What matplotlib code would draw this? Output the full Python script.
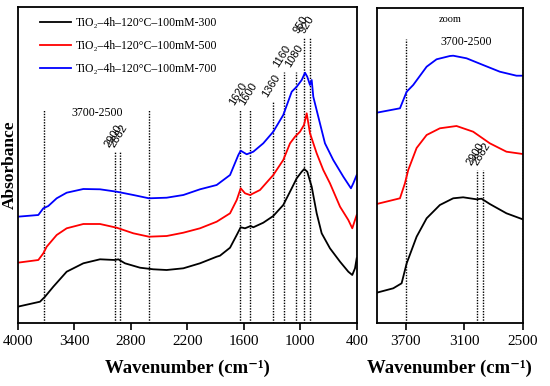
import matplotlib
matplotlib.use("Agg")
import matplotlib.pyplot as plt

SERIF = ['Liberation Serif', 'DejaVu Serif']
SANS = ['Liberation Sans', 'DejaVu Sans']
plt.rcParams['font.family'] = SERIF

# ---------------- data ----------------
labels = ['TiO\u2082\u20134h\u2013120\u00b0C\u2013100mM-300',
          'TiO\u2082\u20134h\u2013120\u00b0C\u2013100mM-500',
          'TiO\u2082\u20134h\u2013120\u00b0C\u2013100mM-700']
colors = ['black', '#ff0000', '#0000ff']

# main panel spectra (wavenumber, absorbance a.u.)
wn_300 = [4000, 3763, 3710, 3622, 3480, 3303, 3126, 2967, 2932, 2861, 2701, 2560, 2418, 2241,
          2064, 1887, 1852, 1745, 1674, 1632, 1586, 1526, 1498, 1392, 1286, 1180, 1090, 1037,
          984, 957, 925, 878, 825, 772, 684, 577, 489, 447, 418, 400]
ab_300 = [16.0, 21.0, 26.0, 36.0, 51.0, 59.4, 63.4, 62.7, 63.4, 59.4, 55.0, 53.4, 52.7, 54.4,
          59.4, 66.0, 67.0, 75.0, 87.7, 95.4, 94.4, 96.7, 95.4, 100.0, 106.7, 117.7, 134.4, 144.4,
          151.0, 153.7, 151.0, 136.0, 109.4, 89.4, 74.4, 61.0, 51.0, 47.7, 54.4, 64.4]

wn_500 = [4000, 3781, 3728, 3692, 3586, 3480, 3303, 3126, 2949, 2772, 2606, 2418, 2241, 2064,
          1887, 1745, 1674, 1632, 1586, 1533, 1427, 1286, 1180, 1108, 1055, 1002, 960, 931,
          896, 825, 755, 684, 577, 489, 447, 418, 400]
ab_500 = [60.0, 62.7, 69.4, 76.0, 87.7, 94.4, 98.7, 98.7, 95.0, 89.4, 86.0, 86.7, 90.0, 94.4,
          101.0, 109.4, 122.7, 134.4, 129.4, 127.7, 132.7, 147.7, 162.7, 179.4, 186.0, 191.0, 197.7, 209.4,
          189.4, 169.4, 152.7, 139.4, 116.0, 102.7, 94.4, 102.7, 107.7]

wn_700 = [4000, 3781, 3728, 3675, 3586, 3480, 3303, 3126, 2949, 2772, 2606, 2418, 2241, 2064,
          1887, 1745, 1657, 1632, 1568, 1498, 1392, 1286, 1180, 1090, 1037, 984, 949, 925,
          896, 878, 861, 808, 737, 649, 542, 461, 436, 400]
ab_700 = [106.0, 107.7, 114.4, 116.7, 124.4, 130.0, 133.7, 133.4, 131.0, 127.7, 124.4, 125.0, 127.7, 133.4,
          137.7, 147.7, 167.7, 172.0, 168.4, 171.0, 179.4, 191.0, 207.7, 231.0, 236.0, 242.7, 250.0, 246.0,
          237.7, 242.7, 226.0, 206.0, 179.4, 162.7, 146.0, 134.4, 139.4, 147.7]

# zoom panel spectra (3700-2500 region)
zwn_300 = [4000, 3830, 3744, 3692, 3590, 3487, 3351, 3214, 3112, 2974, 2923, 2838, 2667, 2500]
zab_300 = [30.0, 34.4, 39.4, 59.4, 86.0, 104.4, 117.7, 124.4, 125.4, 123.4, 124.0, 118.7, 109.4, 103.4]
zwn_500 = [4000, 3761, 3710, 3676, 3590, 3487, 3420, 3351, 3180, 3009, 2838, 2667, 2500]
zab_500 = [118.7, 124.4, 139.4, 152.7, 174.7, 187.7, 191.0, 194.4, 196.7, 191.0, 179.4, 171.0, 168.7]
zwn_700 = [4000, 3761, 3692, 3625, 3487, 3385, 3248, 3214, 3077, 2907, 2735, 2564, 2500]
zab_700 = [210.0, 214.4, 231.0, 237.7, 256.0, 263.4, 266.7, 267.0, 264.4, 257.7, 251.0, 247.0, 247.0]

# marker lines: position, top of line (a.u.), label text
main_marks_pos = [3718, 2606, 2967, 2913, 1639, 1533, 1286, 1169, 1048, 956, 893]
main_marks_top = [212.7, 212.7, 171, 171, 212.7, 212.7, 221, 251, 251, 284.7, 284.7]
main_marks_txt = ['', '', '2900', '2882', '1620', '1600', '1360', '1160', '1080', '950', '920']

zoom_marks_pos = [3700, 2500, 2968, 2907]
zoom_marks_top = [283.7, 283.7, 152.7, 152.7]
zoom_marks_txt = ['', '', '2900', '2882']

main_ticks = [4000, 3400, 2800, 2200, 1600, 1000, 400]
zoom_ticks = [3700, 3100, 2500]

# ---------------- figure ----------------
fig = plt.figure(figsize=(5.5, 3.86), dpi=100)
W, H = 550, 386
ax = fig.add_axes([17.7 / W, 1 - 322.7 / H, (356.7 - 17.7) / W, (322.7 - 6.7) / H])
az = fig.add_axes([376.7 / W, 1 - 322.7 / H, (522.7 - 376.7) / W, (322.7 - 8.3) / H])

lw = 1.3
for wn, ab, c, lab in [(wn_300, ab_300, colors[0], labels[0]),
                       (wn_500, ab_500, colors[1], labels[1]),
                       (wn_700, ab_700, colors[2], labels[2])]:
    ax.plot(wn, ab, color=c, lw=lw, label=lab)
for wn, ab, c in [(zwn_300, zab_300, colors[0]),
                  (zwn_500, zab_500, colors[1]),
                  (zwn_700, zab_700, colors[2])]:
    az.plot(wn, ab, color=c, lw=lw)

def draw_marks(a, pos, top, txt):
    for p, t, s in zip(pos, top, txt):
        a.plot([p, p], [0, t], color='black', lw=1.0, linestyle=(0, (1, 1)), zorder=1)
        if s:
            a.annotate(s, xy=(p, t), xytext=(-3, 2), textcoords='offset points',
                       rotation=58, rotation_mode='anchor', ha='left', va='bottom',
                       fontsize=8, family=SANS)

draw_marks(ax, main_marks_pos, main_marks_top, main_marks_txt)
draw_marks(az, zoom_marks_pos, zoom_marks_top, zoom_marks_txt)

ax.text(3161, 209.7, '3700-2500', ha='center', va='center', fontsize=8.5)
az.text(3077, 281, '3700-2500', ha='center', va='center', fontsize=8.5)
az.text(3248, 303.7, 'zoom', ha='center', va='center', fontsize=7.5)

ax.set_xlim(4000, 400)
ax.set_ylim(0, 316)
az.set_xlim(4000, 2500)
az.set_ylim(0, 314.4)

for a, ticks in [(ax, main_ticks), (az, zoom_ticks)]:
    a.set_xticks(ticks)
    a.set_xticklabels([str(t) for t in ticks])
    a.set_yticks([])
    a.tick_params(axis='x', direction='out', length=5, width=1.2, labelsize=11, pad=4)
    for sp in a.spines.values():
        sp.set_linewidth(1.3)
    a.set_xlabel('Wavenumber (cm\u207b\u00b9)', fontsize=13.5, fontweight='bold', labelpad=8)

fig.text(9.5 / W, 1 - 164.7 / H, 'Absorbance', rotation=90, ha='center', va='center',
         fontsize=12.5, fontweight='bold')

ax.legend(loc='upper left', bbox_to_anchor=(40 / W, 1 - 17 / H), bbox_transform=fig.transFigure,
          frameon=False, fontsize=8.5, handlelength=2.6, handletextpad=0.4,
          labelspacing=0.95, borderpad=0, borderaxespad=0)

fig.savefig('out.png', dpi=100)
